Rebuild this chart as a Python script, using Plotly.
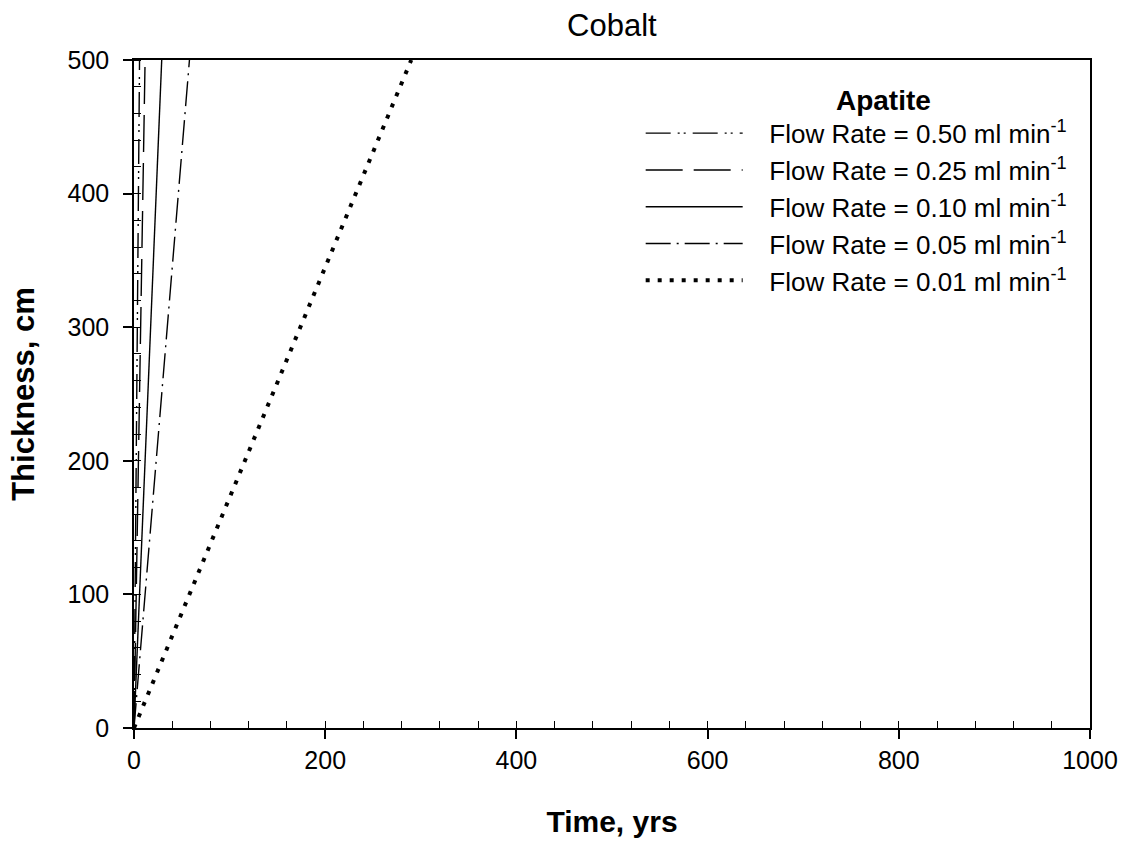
import plotly.graph_objects as go

# Data: thickness vs time for each flow rate (straight lines from origin)
labels = ["\u00a0\u00a0\u00a0Flow Rate = 0.50 ml min<sup>-1</sup>",
          "\u00a0\u00a0\u00a0Flow Rate = 0.25 ml min<sup>-1</sup>",
          "\u00a0\u00a0\u00a0Flow Rate = 0.10 ml min<sup>-1</sup>",
          "\u00a0\u00a0\u00a0Flow Rate = 0.05 ml min<sup>-1</sup>",
          "\u00a0\u00a0\u00a0Flow Rate = 0.01 ml min<sup>-1</sup>"]
time_050 = [0, 5.8]
time_025 = [0, 11.6]
time_010 = [0, 29]
time_005 = [0, 58]
time_001 = [0, 290]
thickness = [0, 500]

times = [time_050, time_025, time_010, time_005, time_001]
dashes = ["25px,7px,2px,4px,2px,7px",
          "37px,11px",
          "solid",
          "25px,6px,2px,6px",
          "4px,8px"]
widths = [1.4, 1.4, 1.4, 1.4, 4]

FONT = "Liberation Sans"
fig = go.Figure()
for i, (lab, t) in enumerate(zip(labels, times)):
    fig.add_trace(go.Scatter(
        x=t, y=thickness, mode="lines", name=lab,
        line=dict(color="black", width=widths[i], dash=dashes[i]),
    ))

fig.update_layout(
    width=1130, height=848,
    margin=dict(l=134, r=38, t=60, b=120),
    paper_bgcolor="white", plot_bgcolor="white",
    font=dict(family=FONT, size=25, color="black"),
    title=dict(text="Cobalt", x=0.5415, xanchor="center", y=0.97, yanchor="middle",
               font=dict(family=FONT, size=31, color="black")),
    legend=dict(
        x=0.53, xanchor="left", y=0.98, yanchor="top",
        title=dict(text="\u00a0" * 7 + "<b>Apatite</b>", side="top center",
                   font=dict(family=FONT, size=28, color="black")),
        font=dict(family=FONT, size=26, color="black"),
        itemwidth=97, tracegroupgap=0, bgcolor="rgba(0,0,0,0)",
    ),
    showlegend=True,
)
fig.update_xaxes(
    range=[0, 1000], tickvals=[0, 200, 400, 600, 800, 1000],
    showgrid=False, zeroline=False,
    showline=True, linecolor="black", linewidth=1.5, mirror=True,
    ticks="outside", ticklen=9, tickwidth=1.5, tickcolor="black",
    minor=dict(dtick=40, ticks="inside", ticklen=7, tickwidth=1.3, tickcolor="black", showgrid=False),
    title=dict(text="<b>Time, yrs</b>", font=dict(size=30, family=FONT, color="black"), standoff=38),
    tickfont=dict(size=25),
)
fig.update_yaxes(
    range=[0, 500], tickvals=[0, 100, 200, 300, 400, 500],
    showgrid=False, zeroline=False,
    showline=True, linecolor="black", linewidth=1.5, mirror=True,
    ticks="outside", ticklen=9, tickwidth=1.5, tickcolor="black",
    minor=dict(dtick=20, ticks="inside", ticklen=7, tickwidth=1.3, tickcolor="black", showgrid=False),
    title=dict(text="<b>Thickness, cm</b>", font=dict(size=31, family=FONT, color="black"), standoff=24),
    tickfont=dict(size=25),
    ticklabelstandoff=9,
)
fig.write_html("out.html")
